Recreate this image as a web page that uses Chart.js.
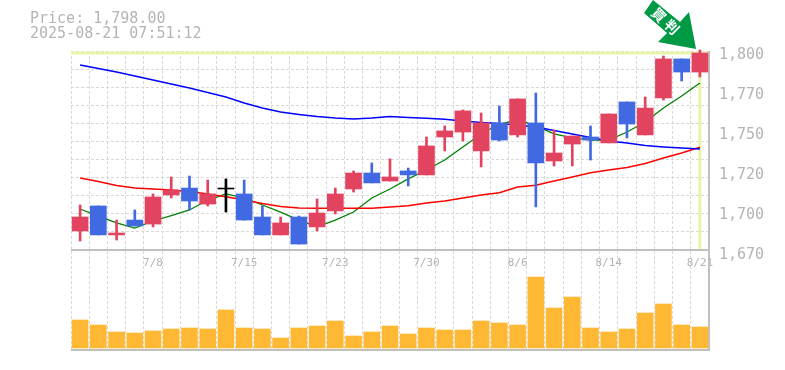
<!DOCTYPE html>
<html>
<head>
<meta charset="utf-8">
<title>Price chart</title>
<script src="https://cdn.jsdelivr.net/npm/chart.js@4"></script>
<style>
    html, body { margin: 0; padding: 0; background: #fff; overflow: hidden; }
    #wrap { position: relative; width: 785px; height: 370px; }
    #info { position: absolute; left: 30px; top: 11px; font: 15px/15px "DejaVu Sans Mono", monospace; color: #b4b4b4; white-space: pre; }
</style>
</head>
<body>
<div id="wrap">
    <div id="info">Price: 1,798.00
2025-08-21 07:51:12</div>
    <canvas id="myChart" width="785" height="370"></canvas>
</div>
<script>
var dates = ["7/2","7/3","7/4","7/7","7/8","7/9","7/10","7/11","7/14","7/15","7/16","7/17","7/18","7/22","7/23","7/24","7/25","7/28","7/29","7/30","7/31","8/1","8/4","8/5","8/6","8/7","8/8","8/12","8/13","8/14","8/15","8/18","8/19","8/20","8/21"];
var dateLabels = ["7/8","7/15","7/23","7/30","8/6","8/14","8/21"];

var opens  = [1686.8,1702.4,1684.3,1693.6,1691.1,1709.3,1713.6,1703.6,1713.0,1709.9,1695.5,1684.3,1695.5,1689.3,1699.3,1713.0,1723.0,1718.0,1724.3,1721.8,1745.5,1748.6,1736.8,1754.3,1746.8,1754.3,1730.5,1741.1,1745.5,1741.8,1767.4,1746.8,1769.9,1794.3,1786.1];
var closes = [1695.5,1684.3,1685.5,1689.9,1708.0,1712.4,1705.5,1709.9,1713.6,1693.6,1684.3,1691.8,1678.6,1698.0,1709.9,1723.0,1716.8,1720.5,1721.8,1739.9,1749.3,1761.8,1754.3,1743.6,1769.3,1729.3,1735.5,1746.1,1743.6,1759.9,1753.6,1763.6,1794.3,1786.1,1798.0];
var highs  = [1703.0,1702.4,1693.6,1699.9,1709.9,1720.5,1721.1,1718.6,1719.3,1718.6,1702.4,1695.5,1696.1,1706.8,1713.6,1724.3,1729.3,1731.8,1726.1,1745.5,1752.4,1762.4,1760.5,1764.9,1769.3,1773.0,1749.9,1746.1,1752.4,1759.9,1767.4,1770.5,1796.1,1794.3,1799.9];
var lows   = [1680.5,1684.3,1681.1,1689.9,1689.3,1707.4,1699.9,1702.4,1698.6,1693.6,1684.3,1684.3,1678.6,1686.8,1697.4,1711.1,1716.8,1718.0,1714.9,1721.8,1736.8,1743.0,1726.8,1743.0,1745.5,1701.8,1727.4,1727.4,1731.1,1741.8,1744.9,1746.8,1768.6,1780.5,1783.0];

var maShort = [1700.5,1696.1,1691.8,1688.6,1693.0,1696.4,1699.9,1706.1,1709.9,1707.4,1703.0,1698.6,1693.6,1689.3,1693.6,1698.6,1707.4,1713.0,1719.3,1724.9,1731.1,1739.3,1747.4,1753.6,1756.1,1752.4,1747.4,1744.9,1743.6,1743.6,1748.6,1754.9,1763.6,1771.1,1779.3];
var maMid   = [1719.9,1717.7,1715.2,1713.6,1713.0,1712.4,1711.4,1709.9,1708.2,1706.1,1703.9,1702.1,1701.1,1700.9,1700.9,1700.9,1700.9,1701.8,1702.6,1704.3,1705.5,1707.4,1709.3,1710.7,1714.3,1715.4,1718.0,1720.5,1723.2,1724.9,1726.4,1728.9,1732.4,1735.5,1739.1];
var maLong  = [1790.5,1788.3,1786.1,1783.6,1781.1,1778.6,1776.1,1773.3,1770.5,1766.8,1763.6,1761.1,1759.6,1758.3,1757.4,1756.8,1757.4,1758.3,1757.7,1757.2,1756.6,1755.5,1754.6,1753.9,1753.0,1751.8,1749.6,1747.4,1745.2,1743.0,1741.8,1740.2,1739.3,1738.6,1738.0];

var volumes = [28,23,16,15,17,19,20,19,38,20,19,10,20,22,27,12,16,22,14,20,18,18,27,25,23,71,40,51,20,16,19,35,44,23,21];

var priceTicks = [1798,1773,1748,1723,1698,1673];
var priceTickLabels = ["1,800","1,770","1,750","1,720","1,700","1,670"];
var lastPrice = 1798;
var signalText = "買判";

var bodies = dates.map(function (d, i) { return [opens[i], closes[i]]; });
var wicks = dates.map(function (d, i) { return [lows[i], highs[i]]; });

function candleColor(ctx) {
    var i = ctx.dataIndex;
    if (i === 8) return "#000000";
    return closes[i] > opens[i] ? "#e2435f" : "#4169e1";
}

var overlayPlugin = {
    id: "overlay",
    beforeDatasetsDraw: function (chart) {
        var c = chart.ctx, area = chart.chartArea;
        var yp = chart.scales.y.getPixelForValue(lastPrice);
        var xp = chart.scales.x.getPixelForValue(dates.length - 1);
        var pane = chart.scales.yGrid.getPixelForValue(0);
        c.save();
        // crosshair on the last price
        c.strokeStyle = "#e6f5a8";
        c.lineWidth = 3;
        c.beginPath();
        c.moveTo(area.left, yp);
        c.lineTo(area.right, yp);
        c.moveTo(xp, yp);
        c.lineTo(xp, pane - 1);
        c.stroke();
        // pane frame
        c.strokeStyle = "#c0c0c0";
        c.lineWidth = 2;
        c.beginPath();
        c.moveTo(area.left, pane);
        c.lineTo(area.right, pane);
        c.moveTo(area.left, area.bottom);
        c.lineTo(area.right + 1, area.bottom);
        c.moveTo(area.right, area.top);
        c.lineTo(area.right, area.bottom);
        c.stroke();
        c.restore();
    },
    afterDraw: function (chart) {
        var c = chart.ctx;
        c.save();
        c.fillStyle = "#009944";
        c.beginPath();
        c.moveTo(653, 0);
        c.lineTo(680, 22);
        c.lineTo(689, 12);
        c.lineTo(696, 49);
        c.lineTo(658, 42);
        c.lineTo(667, 33);
        c.lineTo(644, 13);
        c.closePath();
        c.fill();
        c.fillStyle = "#ffffff";
        c.font = "bold 14px 'Noto Sans CJK JP'";
        c.textAlign = "center";
        c.textBaseline = "middle";
        [[659, 15], [672, 27]].forEach(function (p, i) {
            c.save();
            c.translate(p[0], p[1]);
            c.rotate(Math.PI / 4);
            c.fillText(signalText.charAt(i), 0, 0);
            c.restore();
        });
        c.restore();
    }
};

var ctx = document.getElementById("myChart").getContext("2d");

var chart = new Chart(ctx, {
    type: "bar",
    data: {
        labels: dates,
        datasets: [
            { type: "line", label: "MA75", data: maLong, yAxisID: "y", borderColor: "#0000ff", borderWidth: 1.5, pointRadius: 0, order: 3 },
            { type: "line", label: "MA25", data: maMid, yAxisID: "y", borderColor: "#ff0000", borderWidth: 1.5, pointRadius: 0, order: 3 },
            { type: "line", label: "MA5", data: maShort, yAxisID: "y", borderColor: "#008000", borderWidth: 1.3, pointRadius: 0, order: 3 },
            { label: "High/Low", data: wicks, yAxisID: "y", backgroundColor: candleColor, barThickness: 2, order: 2, clip: 2 },
            { label: "Open/Close", data: bodies, yAxisID: "y", backgroundColor: candleColor, barThickness: 16, order: 1 },
            { label: "Volume", data: volumes, yAxisID: "yVol", backgroundColor: "#ffb833", barThickness: 16, order: 4 }
        ]
    },
    options: {
        responsive: false,
        animation: false,
        layout: { padding: { left: 71, top: 51, bottom: 20, right: 0 } },
        plugins: { legend: { display: false }, tooltip: { enabled: false } },
        datasets: { bar: { grouped: false } },
        scales: {
            x: {
                offset: true,
                position: { y: 1671 },
                grid: { offset: true, color: "#d8d8d8", lineWidth: 1, drawTicks: false },
                border: { display: false, dash: [3, 2] },
                ticks: {
                    autoSkip: false,
                    maxRotation: 0,
                    padding: 0,
                    color: "#b4b4b4",
                    font: { family: "DejaVu Sans Mono", size: 11 },
                    callback: function (value) {
                        var label = this.getLabelForValue(value);
                        return dateLabels.indexOf(label) >= 0 ? label : "";
                    }
                }
            },
            y: {
                position: "right",
                min: 1612.375,
                max: 1799.25,
                afterBuildTicks: function (scale) {
                    scale.ticks = priceTicks.map(function (v) { return { value: v }; });
                },
                afterFit: function (scale) { scale.width = 76; },
                grid: { display: false },
                border: { display: false },
                ticks: {
                    autoSkip: false,
                    padding: 2,
                    labelOffset: 2,
                    color: "#b4b4b4",
                    font: { family: "DejaVu Sans Mono", size: 15 },
                    callback: function (value) {
                        return priceTickLabels[priceTicks.indexOf(value)];
                    }
                }
            },
            yVol: { display: false, position: "right", min: -2, max: 297 },
            yGrid: {
                position: "left",
                min: -5.53,
                max: 11,
                afterBuildTicks: function (scale) {
                    scale.ticks = [1,2,3,4,5,6,7,8,9,10,11].map(function (v) { return { value: v }; });
                },
                afterFit: function (scale) { scale.width = 0; },
                grid: { color: "#d8d8d8", lineWidth: 1, drawTicks: false },
                border: { display: false, dash: [3, 2] },
                ticks: { display: false }
            }
        }
    },
    plugins: [overlayPlugin]
});
</script>
</body>
</html>
